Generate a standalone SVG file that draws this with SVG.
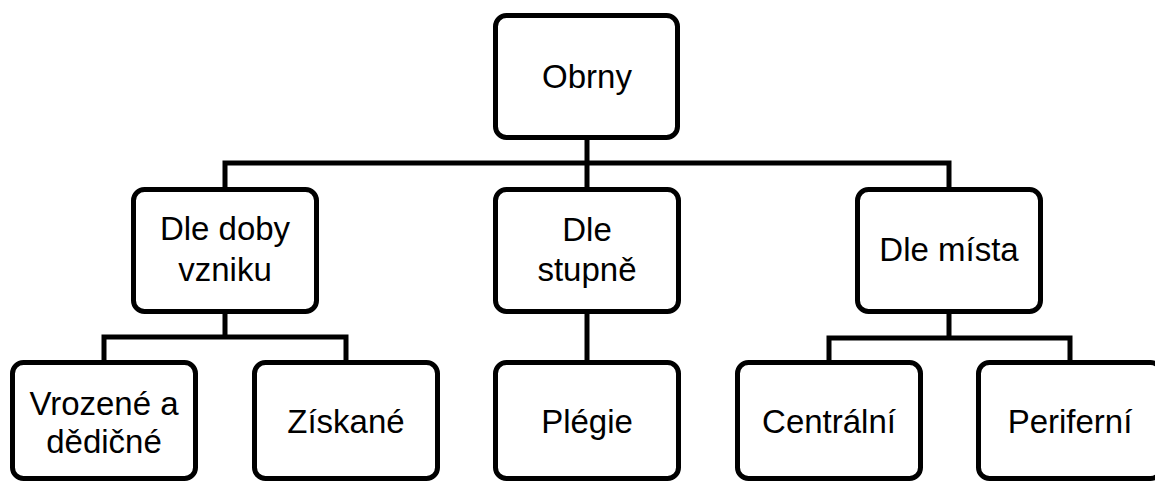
<svg xmlns="http://www.w3.org/2000/svg" width="1155" height="483" viewBox="0 0 1155 483">
<style>
.box{fill:#fff;stroke:#000;stroke-width:5}
.con{fill:none;stroke:#000;stroke-width:5;stroke-linejoin:miter;stroke-linecap:butt}
text{font-family:"Liberation Sans",Arial,sans-serif;font-size:33px;fill:#000;text-anchor:middle}
</style>
<rect width="1155" height="483" fill="#fff"/>
<g id="connectors">
<path class="con" d="M587 140V163M225 187V163H949V187M587 163V187"/>
<path class="con" d="M225 314V337M104 360V337H346V360"/>
<path class="con" d="M587 314V360"/>
<path class="con" d="M949 314V338M829 360V338H1070V360"/>
</g>
<g id="n-obrny"><rect class="box" x="495.5" y="15.5" width="182" height="122" rx="11"/><text x="587" y="88">Obrny</text></g>
<g id="n-doba"><rect class="box" x="133.5" y="189.5" width="183" height="122" rx="11"/><text x="225" y="240">Dle doby</text><text x="225" y="281">vzniku</text></g>
<g id="n-stupen"><rect class="box" x="495.5" y="189.5" width="183" height="122" rx="11"/><text x="587" y="241">Dle</text><text x="587" y="281">stupně</text></g>
<g id="n-misto"><rect class="box" x="857.5" y="189.5" width="183" height="122" rx="11"/><text x="949" y="261">Dle místa</text></g>
<g id="n-vrozene"><rect class="box" x="12.5" y="362.5" width="183" height="116" rx="11"/><text x="104" y="415">Vrozené a</text><text x="104" y="453">dědičné</text></g>
<g id="n-ziskane"><rect class="box" x="254.5" y="362.5" width="183" height="116" rx="11"/><text x="346" y="433">Získané</text></g>
<g id="n-plegie"><rect class="box" x="495.5" y="362.5" width="183" height="116" rx="11"/><text x="587" y="433">Plégie</text></g>
<g id="n-centralni"><rect class="box" x="737.5" y="362.5" width="183" height="116" rx="11"/><text x="829" y="433">Centrální</text></g>
<g id="n-periferni"><rect class="box" x="978.5" y="362.5" width="183" height="116" rx="11"/><text x="1070" y="433">Periferní</text></g>
</svg>
